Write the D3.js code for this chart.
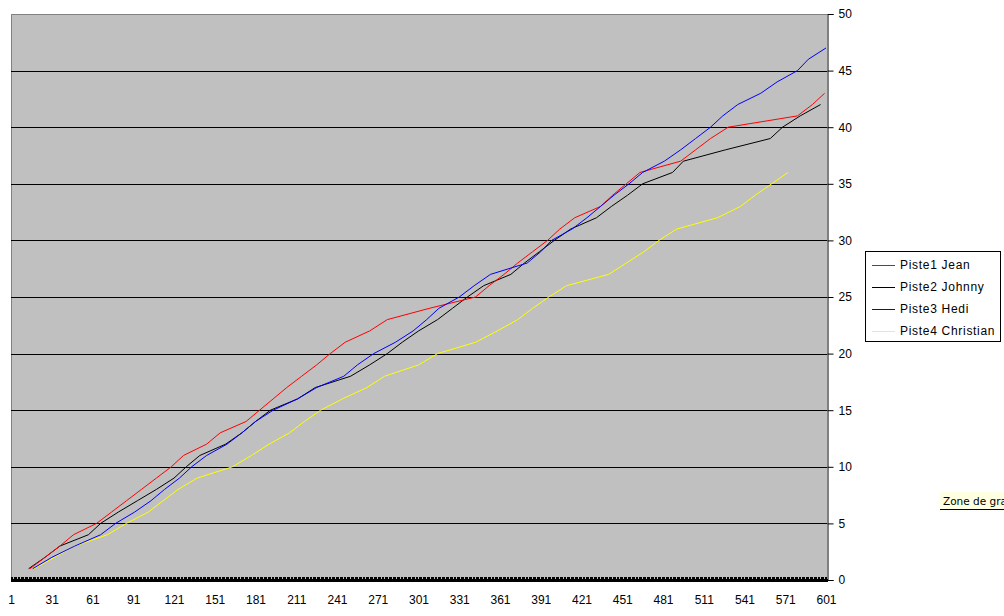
<!DOCTYPE html>
<html>
<head>
<meta charset="utf-8">
<script src="https://cdn.jsdelivr.net/npm/d3@7"></script>
<style>
  html, body { margin: 0; padding: 0; background: #ffffff; }
  svg { display: block; font-family: "Liberation Sans", Arial, sans-serif; }
</style>
</head>
<body>
<svg id="chart" width="1004" height="616"></svg>
<script>
// Category index (time step) at which each lap count 1..N was reached
const seriesNames = ["Piste1 Jean", "Piste2 Johnny", "Piste3 Hedi", "Piste4 Christian"];
const seriesColors = ["#ff0000", "#000000", "#0000ff", "#ffff00"];
const jeanLaps = [15,26,37,47,64,75,86,97,108,119,128,145,155,174,184,194,204,215,226,236,247,265,278,309,343,353,364,374,385,396,405,416,435,444,454,464,494,505,516,529,580,591,600];
const johnnyLaps = [14,26,37,58,67,80,94,108,121,130,140,159,171,181,192,212,225,251,265,278,289,301,315,326,337,349,369,379,390,401,413,432,443,455,466,488,496,527,560,569,582,597];
const hediLaps = [17,31,48,67,78,92,104,114,125,134,145,160,171,181,194,212,226,246,256,268,284,297,307,316,331,342,354,381,391,399,414,425,435,445,456,466,482,494,505,516,525,536,553,565,580,588,601];
const christianLaps = [18,33,48,72,86,102,113,124,138,164,178,191,206,217,229,245,263,276,301,315,343,359,374,385,397,410,441,454,467,478,491,521,538,549,561,573];
const xTickLabels = ["1","31","61","91","121","151","181","211","241","271","301","331","361","391","421","451","481","511","541","571","601"];
const yTickValues = [0,5,10,15,20,25,30,35,40,45,50];
const categoryCount = 601;

(function () {
const svg = d3.select("#chart");
const pL = 11, pR = 827, pT = 14, pB = 580;

const x = d3.scaleLinear().domain([1, categoryCount]).range([pL, pR - 1]);
const y = d3.scaleLinear().domain([0, 50]).range([pB, pT]);

// plot background
svg.append("rect").attr("x", pL).attr("y", pT)
  .attr("width", pR - pL).attr("height", pB - pT)
  .attr("fill", "#c0c0c0");
svg.append("path")
  .attr("d", `M${pL + 0.5},${pB}V${pT + 0.5}H${pR}`)
  .attr("fill", "none").attr("stroke", "#808080").attr("stroke-width", 1);

// gridlines
svg.append("g").selectAll("line")
  .data(yTickValues.filter(v => v > 0 && v < 50))
  .join("line")
  .attr("x1", pL).attr("x2", pR)
  .attr("y1", d => Math.round(y(d)) + 0.5).attr("y2", d => Math.round(y(d)) + 0.5)
  .attr("stroke", "#000").attr("stroke-width", 1);

// series lines
const allSeries = [jeanLaps, johnnyLaps, hediLaps, christianLaps];
const line = d3.line().x(d => x(d[0])).y(d => y(d[1]));
const lineOrder = [3, 1, 0, 2];
lineOrder.forEach(i => {
  const pts = allSeries[i].map((t, k) => [t, k + 1]);
  svg.append("path").datum(pts)
    .attr("d", line)
    .attr("fill", "none")
    .attr("stroke", seriesColors[i])
    .attr("stroke-width", 1);
});

// y axis on the right
const yAxis = d3.axisRight(y).tickValues(yTickValues).tickSize(6).tickPadding(5).tickFormat(d3.format("d"));
const gy = svg.append("g").attr("transform", `translate(${pR + 0.5},0)`).call(yAxis);
gy.select(".domain").attr("stroke", "#000");
gy.selectAll(".tick line").attr("stroke", "#000");
gy.selectAll("text").attr("font-size", 12).attr("fill", "#000")
  .attr("font-family", '"Liberation Sans", Arial, sans-serif');

// x axis: dense category tick marks
const categories = d3.range(1, categoryCount + 1);
svg.append("g").selectAll("line").data(categories).join("line")
  .attr("x1", d => Math.round(x(d)) + 0.5).attr("x2", d => Math.round(x(d)) + 0.5)
  .attr("y1", pB - 3).attr("y2", pB + 2)
  .attr("stroke", "#000").attr("stroke-width", 1)
  .attr("shape-rendering", "crispEdges");
svg.append("rect").attr("x", pL).attr("y", pB - 1)
  .attr("width", pR - pL + 1).attr("height", 3).attr("fill", "#000");

const xAxis = d3.axisBottom(x).tickValues(xTickLabels.map(Number)).tickSize(0).tickPadding(13)
  .tickFormat((d, i) => xTickLabels[i]);
const gx = svg.append("g").attr("transform", `translate(0,${pB + 2})`).call(xAxis);
gx.select(".domain").remove();
gx.selectAll("text").attr("font-size", 12).attr("fill", "#000")
  .attr("font-family", '"Liberation Sans", Arial, sans-serif');

// legend
const lg = svg.append("g");
lg.append("rect").attr("x", 865.5).attr("y", 251.5).attr("width", 135).attr("height", 90)
  .attr("fill", "#fff").attr("stroke", "#000").attr("stroke-width", 1);
seriesNames.forEach((name, i) => {
  const cy = 265 + i * 22;
  lg.append("line").attr("x1", 872).attr("x2", 895)
    .attr("y1", cy + 0.5).attr("y2", cy + 0.5)
    .attr("stroke", seriesColors[i]).attr("stroke-width", 1);
  lg.append("text").attr("x", 900).attr("y", cy).attr("dy", "0.35em")
    .attr("font-size", 12).attr("letter-spacing", "0.7px").attr("fill", "#000")
    .text(name);
});

// tooltip
const tip = svg.append("g");
tip.append("rect").attr("x", 940).attr("y", 492).attr("width", 70).attr("height", 17)
  .attr("fill", "#ffffe1");
tip.append("line").attr("x1", 940).attr("x2", 1004).attr("y1", 509.5).attr("y2", 509.5)
  .attr("stroke", "#000");
tip.append("text").attr("x", 943).attr("y", 501).attr("dy", "0.35em")
  .attr("font-size", 10.5).attr("font-family", '"DejaVu Sans", Tahoma, sans-serif')
  .attr("fill", "#000").text("Zone de graphique");
})();
</script>
</body>
</html>
